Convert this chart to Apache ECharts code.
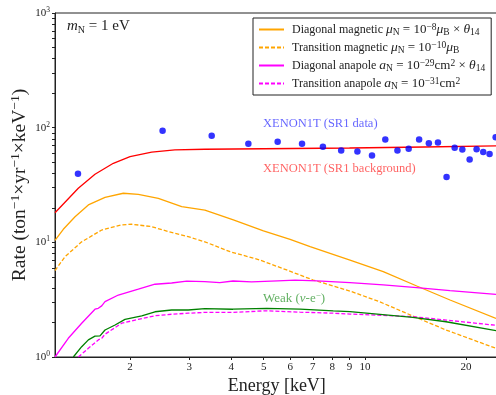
<!DOCTYPE html>
<html>
<head>
<meta charset="utf-8">
<script src="https://cdn.jsdelivr.net/npm/echarts@6/dist/echarts.min.js"></script>
<style>
  html, body { margin: 0; padding: 0; background: #fff; }
  #chart { width: 496px; height: 395px; }
</style>
</head>
<body>
<div id="chart"></div>
<script>
// XENON1T SR1 data points (energy keV, rate)
const dataE = [1.4, 2.5, 3.5, 4.5, 5.5, 6.5, 7.5, 8.5, 9.5, 10.5, 11.5, 12.5, 13.5, 14.5, 15.5, 16.5, 17.5, 18.5, 19.5, 20.5, 21.5, 22.5, 23.5, 24.5];
const dataRate = [39.7, 94.1, 85.1, 72.3, 75.4, 72.3, 68.1, 63.2, 62.0, 57.2, 78.8, 63.2, 65.4, 78.7, 73.2, 74.3, 37.1, 66.8, 64.5, 52.8, 64.8, 61.3, 58.9, 82.4];

// SR1 background
const bgE = [1.196, 1.403, 1.573, 1.784, 2.0, 2.32, 2.72, 3.34, 5.0, 9.0, 15.0, 25.0];
const bgRate = [18.1, 29.6, 39.2, 48.9, 55.8, 61.3, 63.9, 64.8, 65.5, 66.5, 67.8, 69.3];

// diagonal magnetic
const dmE = [1.196, 1.266, 1.372, 1.503, 1.685, 1.91, 2.117, 2.428, 2.85, 3.34, 4.06, 4.99, 5.99, 6.87, 9.03, 11.34, 14.27, 17.92, 24.56];
const dmRate = [10.4, 13.0, 16.7, 21.2, 24.7, 26.8, 26.2, 24.2, 20.5, 19.1, 15.7, 12.6, 10.6, 9.16, 7.01, 5.55, 4.16, 3.14, 2.17];

// transition magnetic
const tmE = [1.196, 1.281, 1.436, 1.647, 1.889, 2.02, 2.32, 2.6, 2.98, 3.34, 3.97, 4.87, 5.85, 7.02, 9.03, 11.04, 13.88, 17.44, 24.56];
const tmRate = [5.68, 7.5, 10.1, 12.8, 14.2, 14.4, 13.7, 12.4, 11.2, 10.1, 8.29, 7.01, 5.74, 4.69, 3.76, 3.04, 2.28, 1.72, 1.19];

// diagonal anapole
const daE = [1.196, 1.31, 1.436, 1.573, 1.609, 1.647, 1.685, 1.846, 2.117, 2.373, 2.66, 2.95, 3.34, 3.7, 4.05, 4.6, 5.5, 6.2, 7.2, 9.03, 11.34, 14.27, 17.92, 24.56];
const daRate = [1.0, 1.456, 1.968, 2.61, 2.66, 2.79, 3.04, 3.47, 3.9, 4.31, 4.42, 4.58, 4.55, 4.45, 4.6, 4.52, 4.62, 4.68, 4.62, 4.45, 4.25, 4.02, 3.79, 3.52];

// transition anapole
const taE = [1.403, 1.503, 1.609, 1.647, 1.685, 1.889, 2.117, 2.373, 2.66, 2.98, 3.34, 4.05, 5.1, 6.41, 8.05, 9.03, 13.88, 17.44, 24.56];
const taRate = [1.0, 1.19, 1.41, 1.456, 1.58, 1.97, 2.13, 2.29, 2.36, 2.41, 2.45, 2.45, 2.53, 2.46, 2.41, 2.37, 2.25, 2.10, 1.89];

// weak nu-e
const wkE = [1.356, 1.436, 1.503, 1.573, 1.628, 1.685, 1.805, 1.932, 2.167, 2.373, 2.66, 2.98, 3.34, 4.05, 5.1, 6.41, 8.05, 9.03, 13.88, 17.44, 24.56];
const wkRate = [1.0, 1.23, 1.41, 1.52, 1.53, 1.72, 1.9, 2.13, 2.28, 2.48, 2.57, 2.57, 2.64, 2.61, 2.66, 2.61, 2.52, 2.49, 2.22, 2.03, 1.70];

// ticks
const xTicks = [2, 3, 4, 5, 6, 7, 8, 9, 10, 20];
const yLabels = [1, 10, 100, 1000];
const yTicks = [1, 2, 3, 4, 5, 6, 7, 8, 9, 10, 20, 30, 40, 50, 60, 70, 80, 90, 100, 200, 300, 400, 500, 600, 700, 800, 900, 1000];

const FONT = 'Liberation Serif';
const INK = '#222';

const pairs = (xs, ys) => xs.map((x, i) => [x, ys[i]]);

// rich styles for the legend math
const LH = 15;
const sub = { fontFamily: FONT, fontSize: 9.5, verticalAlign: 'bottom', lineHeight: LH };
const sup = { fontFamily: FONT, fontSize: 9.5, verticalAlign: 'top', lineHeight: LH };
const it = { fontFamily: FONT, fontSize: 13.5, fontStyle: 'italic', lineHeight: LH };
const mth = { fontFamily: FONT, fontSize: 13, lineHeight: LH };

const legendText = {
  'Diagonal magnetic': ' Diagonal magnetic {i|μ}{sub|N}{m| = 10}{sup|−8}{i|μ}{sub|B}{m| × }{i|θ}{sub|14}',
  'Transition magnetic': ' Transition magnetic {i|μ}{sub|N}{m| = 10}{sup|−10}{i|μ}{sub|B}',
  'Diagonal anapole': ' Diagonal anapole {i|a}{sub|N}{m| = 10}{sup|−29}{m|cm}{sup|2}{m| × }{i|θ}{sub|14}',
  'Transition anapole': ' Transition anapole {i|a}{sub|N}{m| = 10}{sup|−31}{m|cm}{sup|2}'
};

const line = (name, xs, ys, color, dashed) => ({
  name,
  type: 'line',
  data: pairs(xs, ys),
  symbol: 'none',
  showSymbol: false,
  clip: true,
  lineStyle: { color, width: 1.3, type: dashed ? [4, 2] : 'solid' },
  itemStyle: { color },
  emphasis: { disabled: true }
});

const chart = echarts.init(document.getElementById('chart'), null, { renderer: 'canvas' });

chart.setOption({
  animation: false,
  backgroundColor: '#fff',
  grid: {
    left: 55, top: 13, width: 443.6, height: 344,
    outerBoundsMode: 'none',
    containLabel: false,
    show: true, borderColor: INK, borderWidth: 1, backgroundColor: 'transparent'
  },
  xAxis: {
    type: 'log',
    min: 1.196,
    max: 25,
    name: 'Energy [keV]',
    nameLocation: 'middle',
    nameGap: 20,
    nameMoveOverlap: false,
    nameTextStyle: { fontFamily: FONT, fontSize: 18, color: INK },
    axisLine: { lineStyle: { color: INK, width: 1 } },
    axisTick: { customValues: xTicks, length: 3, lineStyle: { color: INK } },
    axisLabel: {
      customValues: xTicks,
      formatter: v => String(Math.round(v)),
      fontFamily: FONT, fontSize: 11, color: INK, margin: 5
    },
    splitLine: { show: false },
    minorTick: { show: false }
  },
  yAxis: {
    type: 'log',
    min: 1,
    max: 1000,
    name: 'Rate (ton{s|−1}×yr{s|−1}×keV{s|−1})',
    nameLocation: 'middle',
    nameRotate: 90,
    nameGap: 23,
    nameMoveOverlap: false,
    nameTextStyle: {
      fontFamily: FONT, fontSize: 19.5, color: INK, lineHeight: 24,
      rich: { s: { fontFamily: FONT, fontSize: 13.5, verticalAlign: 'top', lineHeight: 24, color: INK } }
    },
    axisLine: { lineStyle: { color: INK, width: 1 } },
    axisTick: { customValues: yTicks, length: 3, lineStyle: { color: INK } },
    axisLabel: {
      customValues: yLabels,
      formatter: v => '10{s|' + Math.round(Math.log10(v)) + '}',
      fontFamily: FONT, fontSize: 11, color: INK, margin: 5, lineHeight: 14,
      rich: { s: { fontFamily: FONT, fontSize: 7.5, verticalAlign: 'top', lineHeight: 14, color: INK } }
    },
    splitLine: { show: false },
    minorTick: { show: false }
  },
  legend: {
    data: ['Diagonal magnetic', 'Transition magnetic', 'Diagonal anapole', 'Transition anapole'],
    orient: 'vertical',
    left: 253,
    top: 18,
    itemWidth: 25,
    itemHeight: 14,
    itemGap: 3,
    padding: [4, 6, 4, 5],
    borderColor: INK,
    borderWidth: 1,
    borderRadius: 0,
    backgroundColor: '#fff',
    selectedMode: false,
    itemStyle: { color: 'transparent', borderColor: 'transparent', borderWidth: 0, opacity: 0 },
    formatter: name => legendText[name],
    textStyle: {
      fontFamily: FONT, fontSize: 12, color: INK, lineHeight: LH,
      rich: { sub, sup, i: it, m: mth }
    }
  },
  graphic: [
    {
      type: 'text', left: 67, top: 19,
      style: {
        text: '{i|m}{sb|N}{t| = 1 eV}',
        font: '13px ' + FONT, fill: INK,
        rich: {
          i: { fontFamily: FONT, fontSize: 15, fontStyle: 'italic', lineHeight: 17 },
          sb: { fontFamily: FONT, fontSize: 10, verticalAlign: 'bottom', lineHeight: 17 },
          t: { fontFamily: FONT, fontSize: 15, lineHeight: 17 }
        }
      }
    },
    {
      type: 'text', left: 263, top: 117,
      style: { text: 'XENON1T (SR1 data)', font: '12.5px ' + FONT, fill: 'rgba(0,0,255,0.62)' }
    },
    {
      type: 'text', left: 263, top: 162,
      style: { text: 'XENON1T (SR1 background)', font: '12.5px ' + FONT, fill: 'rgba(255,0,0,0.62)' }
    },
    {
      type: 'text', left: 263, top: 291,
      style: {
        text: 'Weak ({i|ν}-e{sp|−})',
        font: '13px ' + FONT, fill: 'rgba(0,128,0,0.62)',
        rich: {
          i: { fontFamily: FONT, fontSize: 13, fontStyle: 'italic', lineHeight: 16, fill: 'rgba(0,128,0,0.62)' },
          sp: { fontFamily: FONT, fontSize: 9, verticalAlign: 'top', lineHeight: 16, fill: 'rgba(0,128,0,0.62)' }
        }
      }
    }
  ],
  series: [
    line('Diagonal magnetic', dmE, dmRate, '#FFA500', false),
    line('Transition magnetic', tmE, tmRate, '#FFA500', true),
    line('Diagonal anapole', daE, daRate, '#FF00FF', false),
    line('Transition anapole', taE, taRate, '#FF00FF', true),
    line('Weak', wkE, wkRate, '#008000', false),
    line('XENON1T (SR1 background)', bgE, bgRate, '#FF0000', false),
    {
      name: 'XENON1T (SR1 data)',
      type: 'scatter',
      data: pairs(dataE, dataRate),
      symbol: 'circle',
      symbolSize: 6.5,
      itemStyle: { color: '#0000FF' },
      emphasis: { disabled: true },
      z: 5
    }
  ]
});
</script>
</body>
</html>
